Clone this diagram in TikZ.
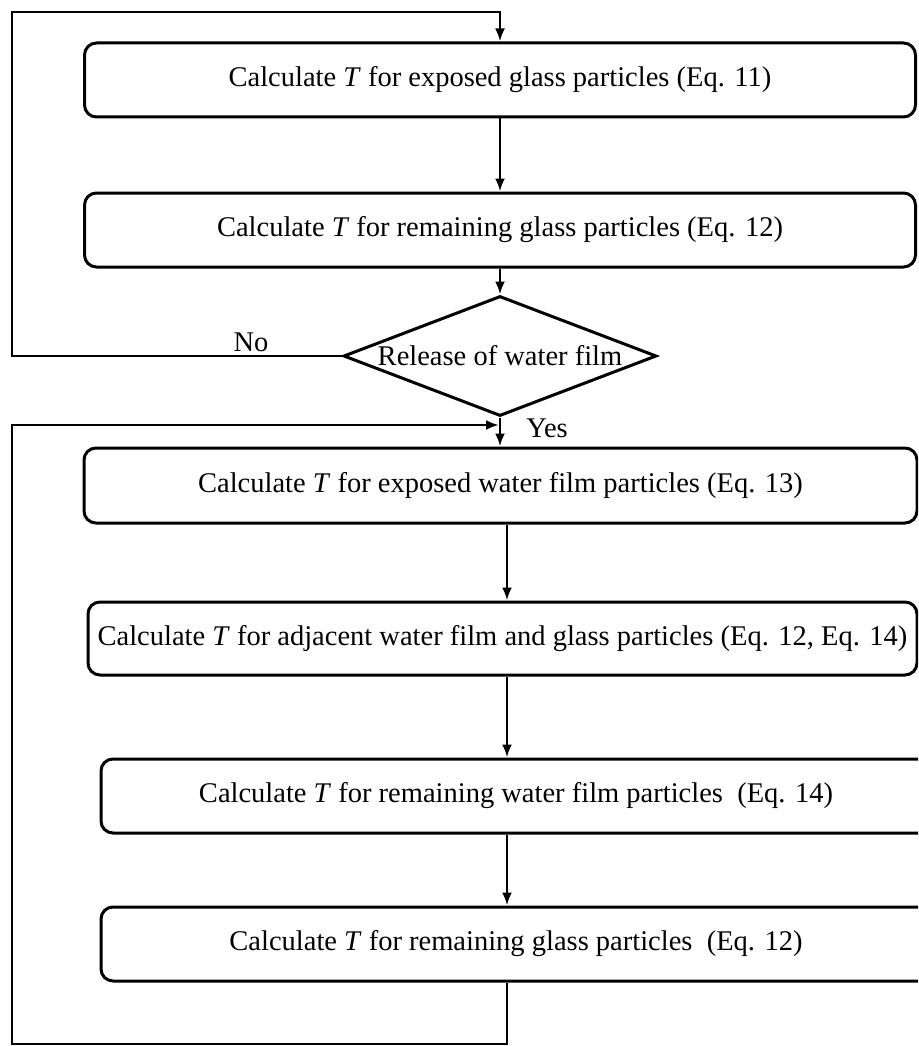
\documentclass[tikz,border=0pt]{standalone}
\usepackage{fontspec}
\setmainfont{Liberation Serif}
\usetikzlibrary{shapes.geometric,arrows.meta}
\begin{document}
\begin{tikzpicture}[x=1pt,y=-1pt,
  txt/.style={font=\fontsize{28.5}{32}\selectfont},
  box/.style={draw,line width=3pt,rounded corners=12pt,inner sep=0pt,txt},
  dec/.style={draw,diamond,line width=3pt,inner sep=0pt,aspect=2.6,txt},
  arr/.style={line width=2.8pt,-{Latex[length=13pt,width=10pt]}},
  ln/.style={line width=2.8pt}]
\useasboundingbox (0,0) rectangle (918,1046);
\clip (0,0) rectangle (918,1046);
\node[box,minimum width=831pt,minimum height=74pt] (b1) at (500,80) {Calculate \textit{T} for exposed glass particles (Eq. 11)};
\node[box,minimum width=831pt,minimum height=74pt] (b2) at (500,230) {Calculate \textit{T} for remaining glass particles (Eq. 12)};
\node[dec,minimum width=313pt,minimum height=120pt] (d) at (500,356) {Release of water film};
\node[box,minimum width=833pt,minimum height=75pt] (b3) at (500.5,485.5) {Calculate \textit{T} for exposed water film particles (Eq. 13)};
\node[box,minimum width=829pt,minimum height=73pt] (b4) at (502.5,638.5) {Calculate \textit{T} for adjacent water film and glass particles (Eq. 12, Eq. 14)};
\node[box,minimum width=830pt,minimum height=74pt] (b5) at (516,796) {Calculate \textit{T} for remaining water film particles\ \ (Eq. 14)\hspace{20pt}};
\node[box,minimum width=830pt,minimum height=74pt] (b6) at (516,944) {Calculate \textit{T} for remaining glass particles\ \ (Eq. 12)\hspace{20pt}};
\node[txt] (no) at (251,342) {No};
\node[txt] (yes) at (547,428) {Yes};
\coordinate (cx) at (507,0);
\coordinate (nl) at (12,12);
\coordinate (yl) at (12,1044);
\coordinate (ye) at (499,425);
\draw[arr] (b1.south) -- (b2.north);
\draw[arr] (b2.south) -- (d.north);
\draw[arr] (d.south) -- (b3.north -| d.south);
\draw[arr] (b3.south -| cx) -- (b4.north -| cx);
\draw[arr] (b4.south -| cx) -- (b5.north -| cx);
\draw[arr] (b5.south -| cx) -- (b6.north -| cx);
\draw[arr] (d.west) -| (nl) -| (b1.north);
\draw[arr] (b6.south -| cx) |- (yl) |- (ye);
\end{tikzpicture}
\end{document}
